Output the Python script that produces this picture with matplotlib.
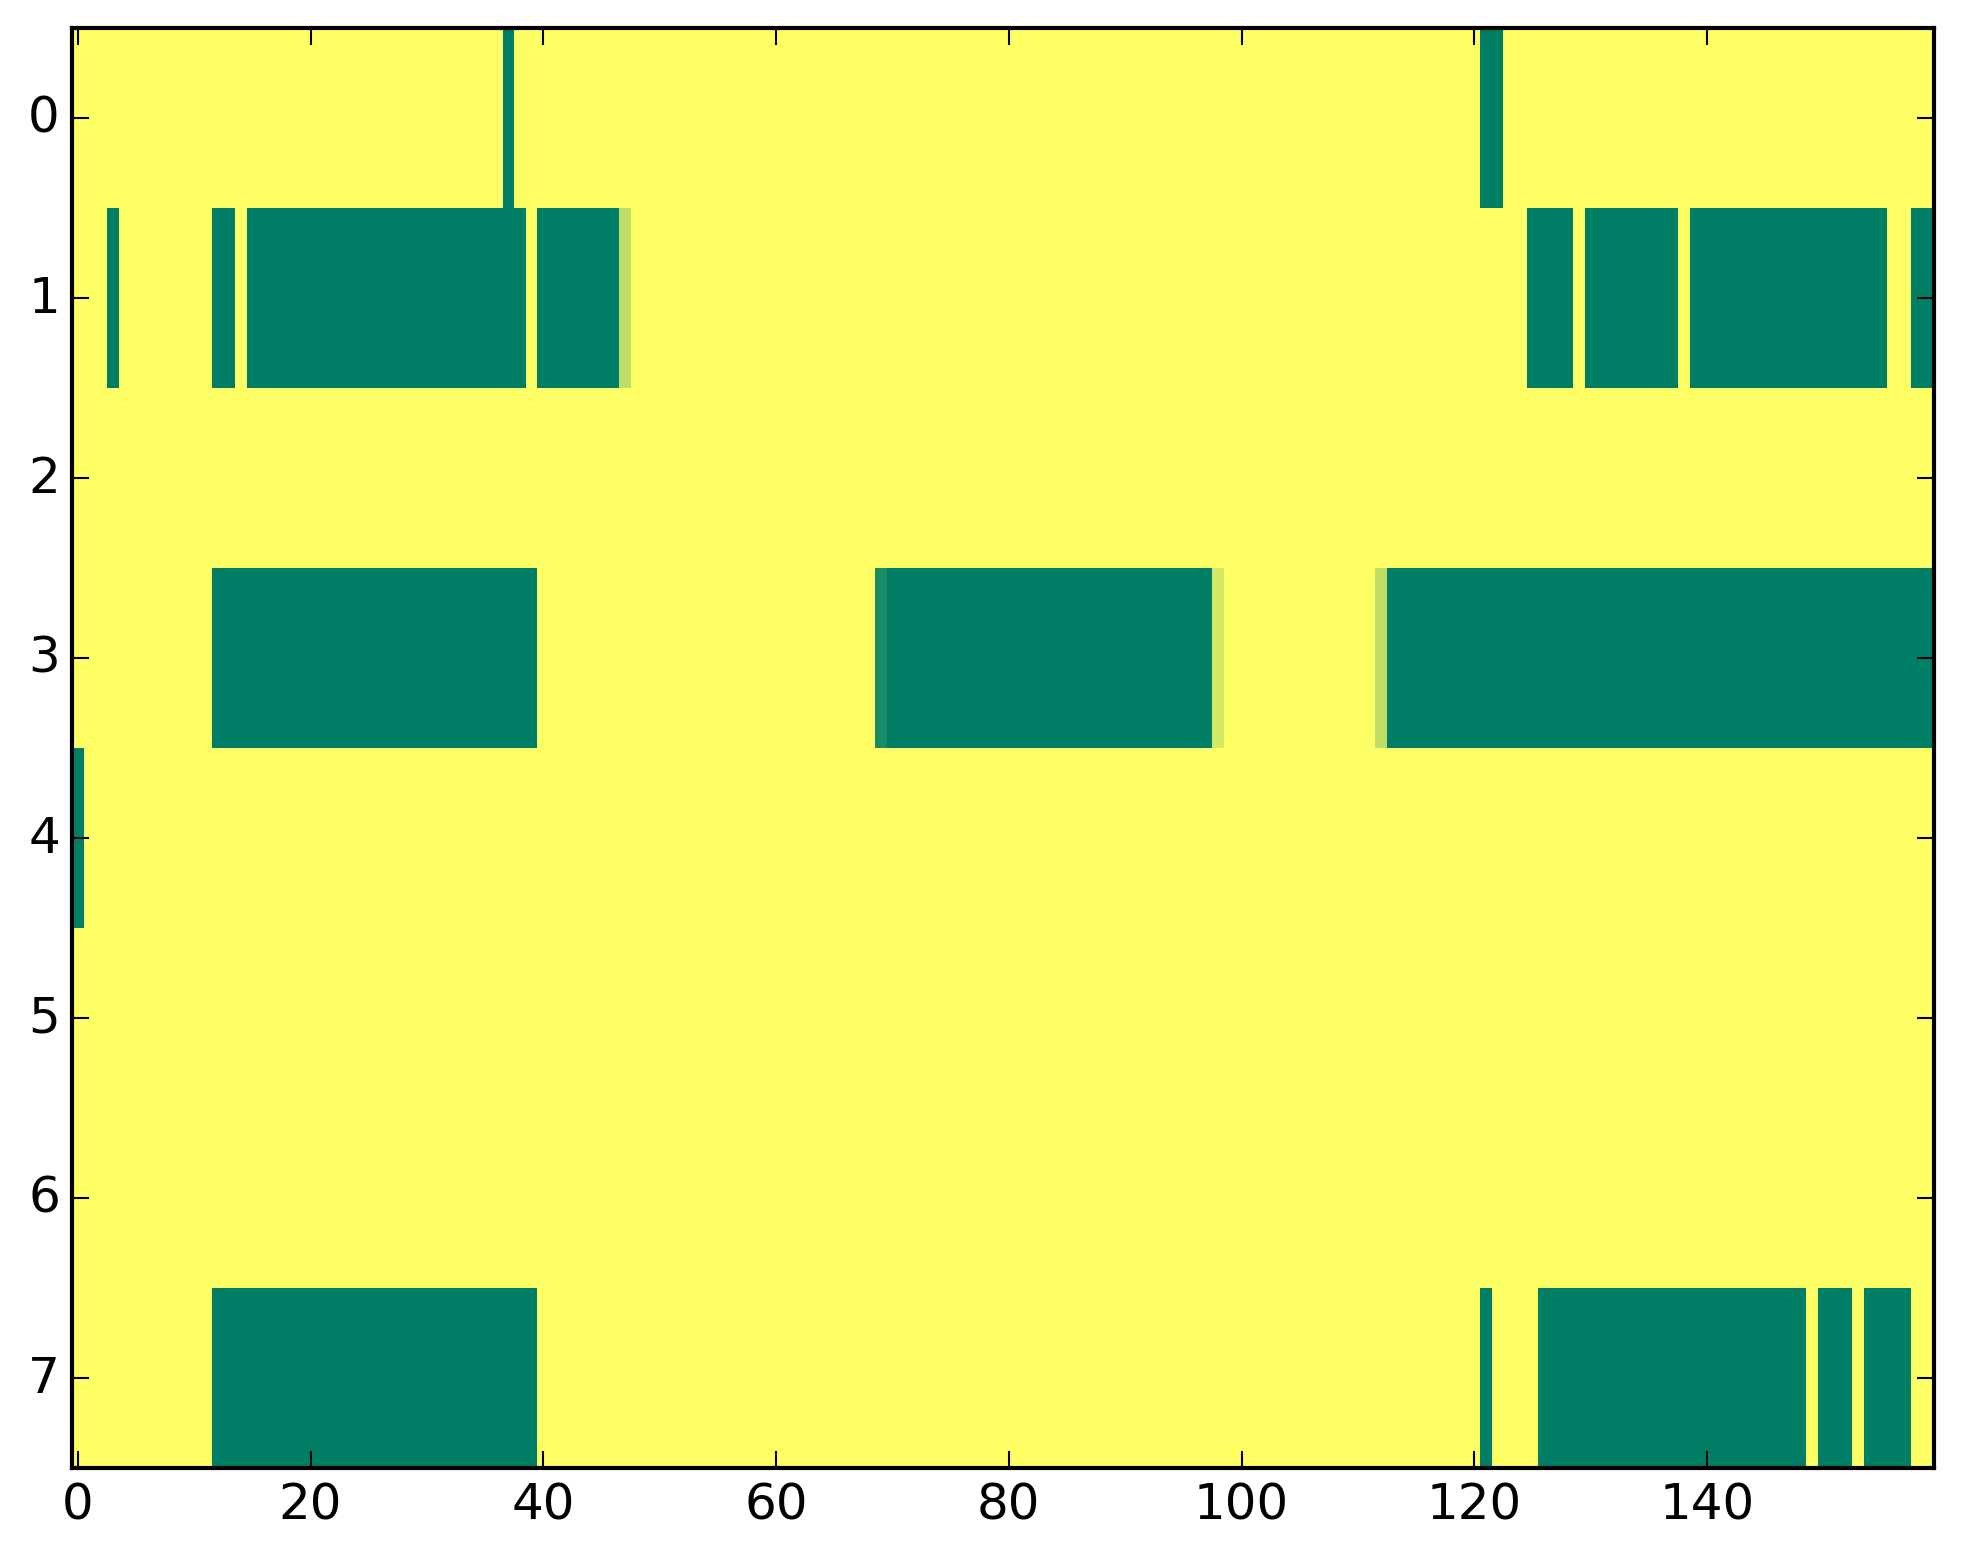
import numpy
import matplotlib
matplotlib.use("Agg")
import matplotlib.pyplot as p

p.style.use("classic")
p.rcParams["xtick.major.pad"] = 3.0
p.rcParams["ytick.major.pad"] = 2.9

n_rows = 8
n_cols = 160

# cells that are not 1.0, per row: (first column, last column, value)
row0 = [(37, 37, 0.0), (121, 122, 0.0)]
row1 = [(3, 3, 0.0), (12, 13, 0.0), (15, 38, 0.0), (40, 46, 0.0), (47, 47, 0.75),
        (125, 128, 0.0), (130, 137, 0.0), (139, 155, 0.0), (158, 159, 0.0)]
row2 = []
row3 = [(12, 39, 0.0), (69, 69, 0.1), (70, 97, 0.0), (98, 98, 0.83),
        (112, 112, 0.75), (113, 159, 0.0)]
row4 = [(0, 0, 0.0)]
row5 = []
row6 = []
row7 = [(12, 39, 0.0), (121, 121, 0.0), (126, 148, 0.0), (150, 152, 0.0),
        (154, 157, 0.0)]

rows = [row0, row1, row2, row3, row4, row5, row6, row7]

grid = numpy.ones((n_rows, n_cols))
for i, runs in enumerate(rows):
    for a, b, v in runs:
        grid[i, a:b + 1] = v

fig = p.figure(figsize=(1963 / 300.0, 1564 / 300.0), dpi=300)
ax = fig.add_axes([0.0367, 0.061, 0.9485, 0.9206])
ax.imshow(grid, cmap="summer", vmin=0, vmax=1, aspect="auto",
          interpolation="nearest")
ax.set_xticks(numpy.arange(0, 160, 20))
ax.set_yticks(numpy.arange(0, 8))
ax.set_xlim(-0.5, n_cols - 0.5)
ax.set_ylim(n_rows - 0.5, -0.5)
p.savefig("out.png", dpi=300)
p.close()
